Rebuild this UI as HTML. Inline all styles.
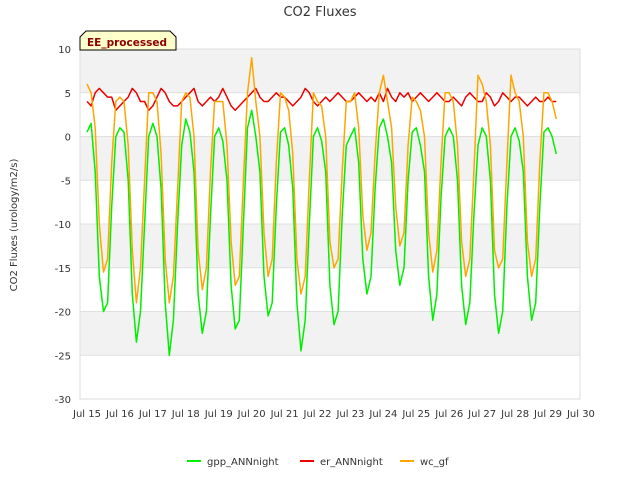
<!DOCTYPE html>
<html><head><meta charset="utf-8"><style>
body{margin:0;background:#fff;font-family:"DejaVu Sans","Liberation Sans",sans-serif;}
</style></head><body>
<svg id="chart" width="640" height="480" xmlns="http://www.w3.org/2000/svg" font-family="DejaVu Sans, Liberation Sans, sans-serif">
<text x="320" y="16" text-anchor="middle" font-size="13" fill="#333">CO2 Fluxes</text>
<g id="bands"></g><g id="grid"></g><g id="axes"></g><g id="series"></g>
<text transform="translate(17,225) rotate(-90)" text-anchor="middle" font-size="10" fill="#333">CO2 Fluxes (urology/m2/s)</text>
<g>
<path d="M80,50 L80,37 L86,31 L170,31 L176,37 L176,50 Z" fill="#ffffcc" stroke="#000" stroke-width="1"/>
<text x="87" y="46" font-size="10.5" font-weight="bold" fill="#8b0000">EE_processed</text>
</g>
<g id="legend"></g>
</svg>
<script>
const yTicks=[10,5,0,-5,-10,-15,-20,-25,-30];
const xLabels=["Jul 15","Jul 16","Jul 17","Jul 18","Jul 19","Jul 20","Jul 21","Jul 22","Jul 23","Jul 24","Jul 25","Jul 26","Jul 27","Jul 28","Jul 29","Jul 30"];
const seriesNames=["gpp_ANNnight","er_ANNnight","wc_gf"];
const gpp=[0.5,1.5,-4,-16,-20,-19,-8,0,
1,0.5,-5,-18,-23.5,-20,-10,0,
1.5,0,-6,-19,-25,-21,-10,-1,
2,0.5,-4,-18,-22.5,-20,-9,0,
1,-0.5,-5,-17,-22,-21,-10,1,
3,0,-4,-16,-20.5,-19,-8,0.5,
1,-1,-6,-19,-24.5,-21,-10,0,
1,-0.5,-4,-17,-21.5,-20,-9,-1,
0,1,-3,-14,-18,-16,-6,1,
2,0,-3,-13,-17,-15,-5,0.5,
1,-1,-4,-16,-21,-18,-7,0,
1,0,-5,-17,-21.5,-19,-9,-1,
1,0,-5,-18,-22.5,-20,-8,0,
1,-0.5,-4,-16,-21,-19,-8,0.5,
1,0,-2];
const er=[4,3.5,5,5.5,5,4.5,4.5,3,
3.5,4,4.5,5.5,5,4,4,3,
3.5,4.5,5.5,5,4,3.5,3.5,4,
4.5,5,5.5,4,3.5,4,4.5,4,
4.5,5.5,4.5,3.5,3,3.5,4,4.5,
5,5.5,4.5,4,4,4.5,5,4.5,
4.5,4,3.5,4,4.5,5.5,5,4,
3.5,4,4.5,4,4.5,5,4.5,4,
4,4.5,5,4.5,4,4.5,4,5,
4,5.5,4.5,4,5,4.5,5,4,
4.5,5,4.5,4,4.5,5,4.5,4,
4,4.5,4,3.5,4.5,5,4.5,4,
4,5,4.5,3.5,4,5,4.5,4,
4.5,4.5,4,3.5,4,4.5,4,4,
4.5,4,4];
const wc=[6,5,1,-10,-15.5,-14,-3,4,
4.5,4,-1,-13,-19,-15,-5,5,
5,4,-2,-14,-19,-16,-6,4,
5,4.5,0,-13,-17.5,-15,-4,4,
4,4,-1,-12,-17,-16,-5,5,
9,4,0,-11,-16,-14,-3,5,
4.5,3,-2,-14,-18,-16,-5,5,
4,3.5,0,-12,-15,-14,-4,4,
4,5,1,-9,-13,-11,-2,5,
7,4,1,-8,-12.5,-11,-1,4.5,
4,3,0,-11,-15.5,-13,-3,5,
5,4,-1,-12,-16,-14,-4,7,
6,4,-1,-13,-15,-14,-3,7,
5,4,0,-12,-16,-14,-3,5,
5,4,2];
const tStep=0.125;
const x0=87,dayW=32.93,yTop=49,unit=8.75;
const X=t=>x0+t*dayW;
const Y=v=>yTop+(10-v)*unit;
const NS="http://www.w3.org/2000/svg";
function mk(tag,attrs,parent){const e=document.createElementNS(NS,tag);for(const k in attrs)e.setAttribute(k,attrs[k]);parent.appendChild(e);return e;}
const bands=document.getElementById('bands'),grid=document.getElementById('grid'),axes=document.getElementById('axes'),ser=document.getElementById('series'),leg=document.getElementById('legend');
for(let i=0;i<yTicks.length-1;i++){
 if(i%2===0){const r=mk('rect',{x:80,y:Y(yTicks[i]),width:500,height:Y(yTicks[i+1])-Y(yTicks[i]),fill:'#f2f2f2'},bands);
 
 }
}
yTicks.forEach(v=>{
 const l=mk('line',{x1:80,x2:580,y1:Y(v),y2:Y(v),stroke:'#e0e0e0','stroke-width':1},grid);
 
 
 const t=mk('text',{x:71,y:Y(v)+4,'text-anchor':'end','font-size':10,fill:'#333'},axes);t.textContent=v;
 
 
});
const fr=mk('rect',{x:80,y:49,width:500,height:350,fill:'none',stroke:'#ddd'},axes);


xLabels.forEach((s,i)=>{
 const t=mk('text',{x:X(i),y:417,'text-anchor':'middle','font-size':10,fill:'#333'},axes);t.textContent=s;
 
 
});
const colors=['#00ee00','#ee0000','#ffa500'];
[gpp,er,wc].forEach((arr,si)=>{
 const pts=arr.map((v,i)=>X(i*tStep).toFixed(1)+','+Y(v).toFixed(1)).join(' ');
 const p=mk('polyline',{points:pts,fill:'none',stroke:colors[si],'stroke-width':1.5,'stroke-linejoin':'round'},ser);
 
 
});
const lx=[187,300,400];
seriesNames.forEach((n,i)=>{
 const g=mk('g',{},leg);
 
 
 mk('line',{x1:lx[i],x2:lx[i]+14,y1:461,y2:461,stroke:colors[i],'stroke-width':2},g);
 const t=mk('text',{x:lx[i]+20,y:465,'font-size':10,fill:'#333'},g);t.textContent=n;
});
</script>
</body></html>
